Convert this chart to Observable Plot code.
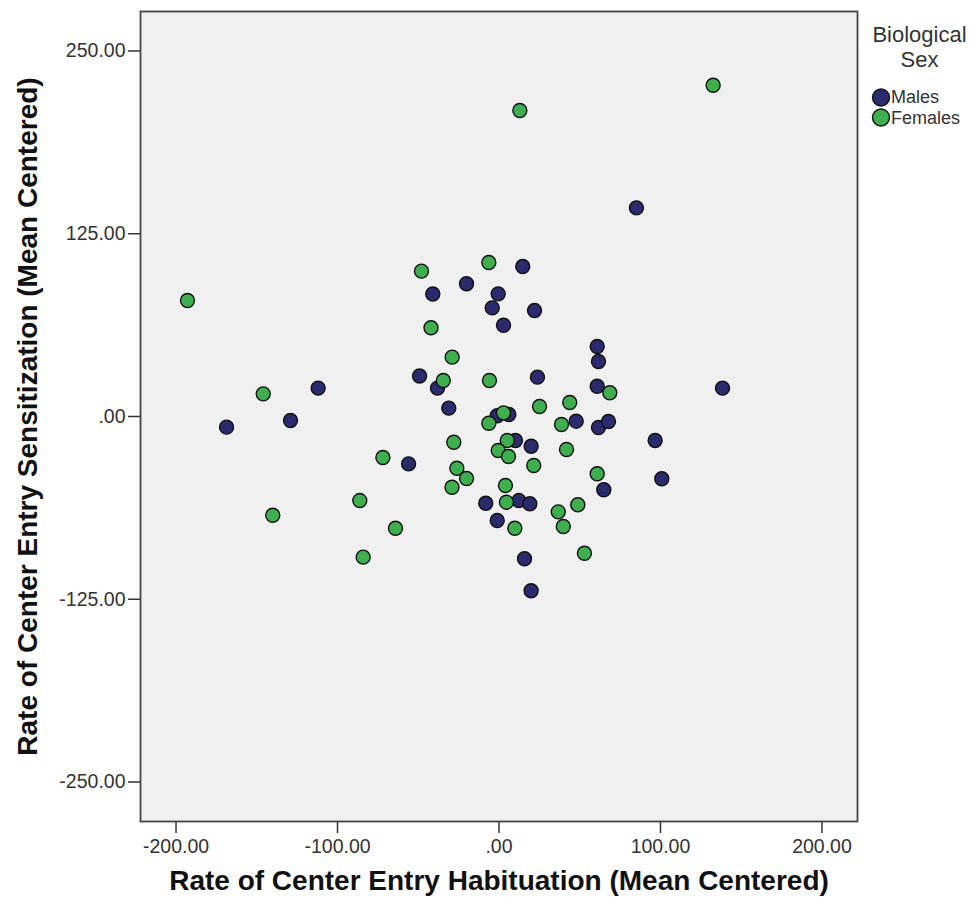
<!DOCTYPE html>
<html>
<head>
<meta charset="utf-8">
<script src="https://cdn.jsdelivr.net/npm/d3@7"></script>
<script src="https://cdn.jsdelivr.net/npm/@observablehq/plot@0.6"></script>
<style>
  html, body { margin: 0; padding: 0; background: #fff; }
  #wrap { position: relative; width: 979px; height: 908px; font-family: "Liberation Sans", Arial, sans-serif; }
  #legend { position: absolute; left: 860px; top: 22px; width: 119px; color: #333; }
  #legend .title { text-align: center; font-size: 22px; line-height: 25px; }
  #legend .rows { margin-top: 15px; }
  #legend .row { display: flex; align-items: center; height: 20.5px; font-size: 18px; line-height: 20px; }
  #legend .row svg { margin-left: 11px; margin-right: 0px; }
</style>
</head>
<body>
<div id="wrap">
  <div id="chart"></div>
  <div id="legend"></div>
</div>
<script>
// Categories and colours
const categories = ["Males", "Females"];
const colors = ["#2b2a6c", "#3fae4f"];
const legendTitle = ["Biological", "Sex"];

// Axis titles and ticks
const xTitle = "Rate of Center Entry Habituation (Mean Centered)";
const yTitle = "Rate of Center Entry Sensitization (Mean Centered)";
const xTicks = [-200, -100, 0, 100, 200];
const yTicks = [-250, -125, 0, 125, 250];
const xDomain = [-222, 222];
const yDomain = [-277, 277];

// Males
const maleX = [14.7, -20.1, -41.0, -0.5, -4.2, 22.0, 2.8, 60.8, 61.6, -49.2, -38.1, 23.8, 60.8, 138.4, -112.0, -129.1, -168.7, -31.1, -1.1, 6.1, 47.8, 61.6, 67.8, 96.7, 10.2, 19.9, -56.0, 100.8, 64.9, -8.2, 12.3, 19.1, -1.1, 15.8, 19.9, 85.1];
const maleY = [102.6, 90.8, 83.8, 83.9, 74.3, 72.5, 62.4, 47.9, 37.6, 27.7, 19.4, 26.9, 20.7, 19.4, 19.4, -2.7, -7.3, 5.7, 0.5, 1.4, -3.2, -7.5, -3.4, -16.4, -16.4, -20.3, -32.4, -42.6, -50.1, -59.3, -57.5, -59.7, -71.1, -97.3, -119.2, 142.7];

// Females
const femaleX = [-192.9, 132.6, 12.9, -48.0, -6.3, -42.1, -29.0, -34.5, -5.9, -146.0, 68.6, 43.8, 25.1, 2.8, -6.3, 38.7, -28.0, 5.1, -0.5, 5.9, 41.8, -71.9, 21.5, -26.1, -20.1, -29.1, 60.8, 4.0, 4.6, 48.8, 36.7, -86.2, -140.1, -64.1, -84.1, 9.8, 39.8, 52.9];
const femaleY = [79.3, 226.6, 209.3, 99.4, 105.3, 60.7, 40.6, 24.6, 24.6, 15.5, 16.2, 9.6, 6.8, 2.5, -4.6, -5.5, -17.6, -16.4, -23.3, -27.4, -22.6, -28.0, -33.5, -35.4, -42.4, -48.4, -39.2, -47.2, -58.6, -60.4, -65.2, -57.5, -67.5, -76.4, -96.2, -76.4, -75.2, -93.5];

const data = [
  ...maleX.map((x, i) => ({x, y: maleY[i], sex: categories[0]})),
  ...femaleX.map((x, i) => ({x, y: femaleY[i], sex: categories[1]}))
];

const fmt = d => d === 0 ? ".00" : d.toFixed(2);

const chart = Plot.plot({
  width: 979,
  height: 908,
  marginLeft: 140,
  marginRight: 122,
  marginTop: 11,
  marginBottom: 87,
  style: {fontFamily: "'Liberation Sans', Arial, sans-serif", fontSize: "19px", color: "#333", background: "#fff"},
  x: {domain: xDomain},
  y: {domain: yDomain},
  color: {domain: categories, range: colors},
  marks: [
    Plot.frame({fill: "#f0f0f0"}),
    Plot.axisX({ticks: xTicks, tickFormat: fmt, tickSize: 12, tickPadding: 6, label: null, strokeWidth: 1.5, fontSize: 19.5}),
    Plot.axisY({ticks: yTicks, tickFormat: fmt, tickSize: 12, tickPadding: 3, label: null, strokeWidth: 1.5, fontSize: 19.5}),
    Plot.dot(data, {x: "x", y: "y", fill: "sex", stroke: "#111", strokeWidth: 1.4, r: 7}),
    Plot.frame({stroke: "#444", strokeWidth: 1.8}),
    Plot.text([xTitle], {frameAnchor: "bottom", dy: 68, fontSize: 28, fontWeight: "bold", fill: "#111", textAnchor: "middle", text: d => d}),
    Plot.text([yTitle], {frameAnchor: "left", dx: -112, rotate: -90, fontSize: 28, fontWeight: "bold", fill: "#111", textAnchor: "middle", text: d => d})
  ]
});
document.getElementById("chart").appendChild(chart);

// Legend
const legend = document.getElementById("legend");
const t = document.createElement("div");
t.className = "title";
t.innerHTML = legendTitle.join("<br>");
legend.appendChild(t);
const rows = document.createElement("div");
rows.className = "rows";
categories.forEach((c, i) => {
  const row = document.createElement("div");
  row.className = "row";
  row.innerHTML = `<svg width="20" height="19"><circle cx="10" cy="9.5" r="8.5" fill="${colors[i]}" stroke="#111" stroke-width="1.4"></circle></svg><span>${c}</span>`;
  rows.appendChild(row);
});
legend.appendChild(rows);
</script>
</body>
</html>
